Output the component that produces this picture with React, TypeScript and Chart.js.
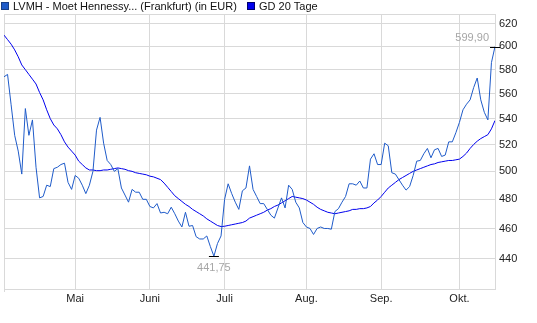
import React, { useEffect, useRef } from "react";
import { Chart, registerables } from "chart.js";

Chart.register(...registerables);

const priceSeriesName = "LVMH - Moet Hennessy... (Frankfurt) (in EUR)";
const avgSeriesName = "GD 20 Tage";

const monthLabels = ["Mai", "Juni", "Juli", "Aug.", "Sep.", "Okt."];
const monthStartIndex = [20, 41, 62, 85, 106, 128];
const yTickValues = [440, 460, 480, 500, 520, 540, 560, 580, 600, 620];

const price = [
  574, 576, 551, 527, 515, 498, 548, 527, 539, 503,
  481, 482, 490, 489, 502, 503, 505, 506, 492, 487,
  497, 495, 490, 484, 490, 500, 531, 541, 521, 508,
  505, 500, 502, 488, 483, 478, 487, 485, 485, 480,
  480, 475, 474, 477, 470.5, 471, 470, 474.5, 470, 465,
  461, 471, 461.5, 462, 454.5, 453, 453, 455, 448, 441.75,
  450, 455, 480, 491, 484, 478, 473, 486, 488, 504,
  487, 482, 477, 477, 473, 469, 467, 474, 481, 474,
  490, 487, 478, 474, 464, 461, 460, 456, 460, 461,
  460, 460, 459.5, 471.5, 473.5, 478, 482, 491, 491, 490,
  493, 488, 488, 509, 513, 505, 505, 521, 519, 499,
  498, 494, 490, 486.5, 489, 497, 507.5, 508, 513, 517,
  510, 516, 517, 511, 512, 522, 522, 529, 537, 547,
  551.5, 555, 565, 573, 555, 545, 539, 586, 599.9,
];

const gd20 = [
  610, 606, 602, 597, 591, 584, 580, 576, 572, 568,
  561, 555, 547, 540, 535, 532, 527.5, 522, 518, 515,
  512, 507.5, 505, 502.5, 501, 501, 500.5, 500.5, 501, 501,
  501.5, 502, 502.5, 502, 501.5, 500.5, 500, 499, 498.5, 498,
  497.5, 496.5, 496, 495, 494, 491.5, 488.5, 485.5, 482.5, 480.5,
  478.5, 476.5, 475, 473, 471.5, 470, 468.5, 466.5, 465, 463.5,
  462, 461.3, 461.5, 462, 462.5, 463, 463.5, 464, 465, 467,
  468, 469, 470, 471, 472.5, 473.5, 475, 476, 477.5, 479,
  480.5, 482, 481.5, 481, 480.5, 479.5, 478, 476.5, 474.5, 473,
  472, 471, 470.5, 470, 470.5, 471, 471.5, 472, 473, 473,
  473.5, 473.5, 474, 475, 477.5, 479.5, 482, 485, 488, 490,
  492, 494, 495.5, 497, 498.5, 500, 501, 502, 503, 504,
  505, 505.5, 506.5, 507, 507.5, 508, 508, 508.5, 509, 511,
  513.5, 517, 520, 522.5, 524.5, 526, 527.5, 532, 538.5,
];

const PRICE_COLOR = "#1f5bc9";
const GD_COLOR = "#0000ee";
const GRID_COLOR = "#d9d9d9";
const FONT_FAMILY = "Arial, 'Liberation Sans', sans-serif";

export default function App() {
  const ref = useRef<HTMLCanvasElement>(null);

  useEffect(() => {
    document.body.style.margin = "0";
    const canvas = ref.current;
    if (!canvas) return;

    const framePlugin = {
      id: "frame",
      beforeDatasetsDraw(chart: any) {
        const { ctx, chartArea } = chart;
        ctx.save();
        ctx.strokeStyle = GRID_COLOR;
        ctx.lineWidth = 1;
        ctx.beginPath();
        ctx.moveTo(chartArea.left + 0.5, chartArea.top + 0.5);
        ctx.lineTo(chartArea.right + 0.5, chartArea.top + 0.5);
        ctx.moveTo(chartArea.left + 0.5, chartArea.top);
        ctx.lineTo(chartArea.left + 0.5, chartArea.bottom + 3);
        ctx.stroke();
        ctx.restore();
      },
    };

    const legendPlugin = {
      id: "topLegend",
      afterDraw(chart: any) {
        const { ctx } = chart;
        const items = [
          { x: 1, text: priceSeriesName, color: PRICE_COLOR, border: "#1a3f86" },
          { x: 247, text: avgSeriesName, color: GD_COLOR, border: "#00006e" },
        ];
        ctx.save();
        ctx.font = `11px ${FONT_FAMILY}`;
        ctx.textBaseline = "middle";
        ctx.textAlign = "left";
        items.forEach((it) => {
          ctx.fillStyle = it.color;
          ctx.fillRect(it.x, 2, 8, 8);
          ctx.strokeStyle = it.border;
          ctx.lineWidth = 1;
          ctx.strokeRect(it.x + 0.5, 2.5, 7, 7);
          ctx.fillStyle = "#111";
          ctx.fillText(it.text, it.x + 12, 6.5);
        });
        ctx.restore();
      },
    };

    const fmt = (v: number) => v.toFixed(2).replace(".", ",");

    const minMaxPlugin = {
      id: "minMax",
      afterDatasetsDraw(chart: any) {
        const { ctx, scales } = chart;
        let minI = 0;
        let maxI = 0;
        price.forEach((v, i) => {
          if (v < price[minI]) minI = i;
          if (v > price[maxI]) maxI = i;
        });
        const marks = [
          { i: minI, above: false },
          { i: maxI, above: true },
        ];
        ctx.save();
        ctx.font = `11px ${FONT_FAMILY}`;
        marks.forEach((m) => {
          const px = scales.x.getPixelForValue(m.i);
          const py = Math.round(scales.y.getPixelForValue(price[m.i])) + 0.5;
          ctx.strokeStyle = "#000";
          ctx.lineWidth = 1;
          ctx.beginPath();
          ctx.moveTo(px - 5, py);
          ctx.lineTo(px + 5, py);
          ctx.stroke();
          ctx.fillStyle = "#a6a6a6";
          ctx.textBaseline = "middle";
          if (m.above) {
            ctx.textAlign = "right";
            ctx.fillText(fmt(price[m.i]), px - 6, py - 10);
          } else {
            ctx.textAlign = "center";
            ctx.fillText(fmt(price[m.i]), px, py + 11);
          }
        });
        ctx.restore();
      },
    };

    const chart = new Chart(canvas, {
      type: "line",
      data: {
        datasets: [
          {
            label: priceSeriesName,
            data: price.map((y, i) => ({ x: i, y })),
            borderColor: PRICE_COLOR,
            borderWidth: 1,
            pointRadius: 0,
            tension: 0,
            fill: false,
          },
          {
            label: avgSeriesName,
            data: gd20.map((y, i) => ({ x: i, y })),
            borderColor: GD_COLOR,
            borderWidth: 1,
            pointRadius: 0,
            tension: 0,
            fill: false,
          },
        ],
      },
      options: {
        responsive: false,
        animation: false,
        devicePixelRatio: 1,
        layout: { padding: { left: 4, top: 14, right: 0, bottom: 0 } },
        plugins: {
          legend: { display: false },
          tooltip: { enabled: false },
        },
        scales: {
          x: {
            type: "linear",
            min: 0,
            max: price.length - 1,
            afterBuildTicks: (s: any) => {
              s.ticks = monthStartIndex.map((v) => ({ value: v }));
            },
            afterFit: (s: any) => {
              s.height = 34;
            },
            ticks: {
              autoSkip: false,
              maxRotation: 0,
              padding: 3,
              color: "#222",
              font: { family: FONT_FAMILY, size: 11 },
              callback: (_v: any, idx: number) => monthLabels[idx],
            },
            grid: { color: GRID_COLOR, drawTicks: false },
            border: { color: GRID_COLOR },
          },
          y: {
            type: "logarithmic",
            position: "right",
            min: 421.1,
            max: 629.1,
            bounds: "data",
            afterBuildTicks: (s: any) => {
              s.ticks = yTickValues.map((v) => ({ value: v }));
            },
            afterFit: (s: any) => {
              s.width = 42;
            },
            ticks: {
              padding: 4,
              color: "#222",
              font: { family: FONT_FAMILY, size: 11 },
              callback: (v: any) => String(v),
            },
            grid: { color: GRID_COLOR, drawTicks: false },
            border: { color: GRID_COLOR },
          },
        },
      },
      plugins: [framePlugin, legendPlugin, minMaxPlugin],
    } as any);

    return () => chart.destroy();
  }, []);

  return <canvas ref={ref} width={537} height={323} style={{ display: "block" }} />;
}
